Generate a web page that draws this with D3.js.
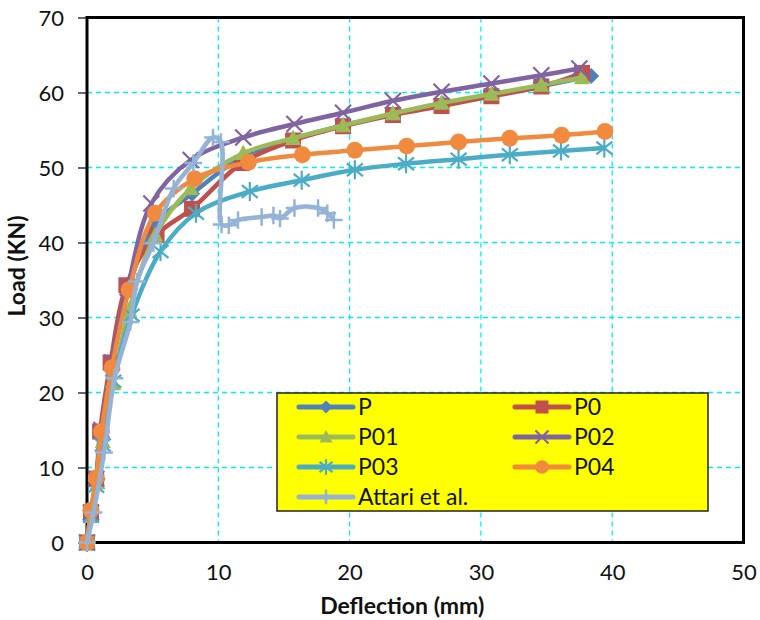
<!DOCTYPE html>
<html>
<head>
<meta charset="utf-8">
<script src="https://cdn.jsdelivr.net/npm/d3@7"></script>
<style>
  body { margin: 0; background: #fff; }
  text { font-family: Lato, "Liberation Sans", sans-serif; fill: #111; }
</style>
</head>
<body>
<svg id="chart"></svg>
<script>
// series values [deflection mm, load kN]
const seriesNames = ['P', 'P0', 'P01', 'P02', 'P03', 'P04', 'Attari et al.'];

const dataP = [[0,0],[0.3,4],[0.8,8.5],[1.1,14.5],[1.9,23.5],[3.1,33.5],[5.2,42.5],[8.0,46.5],[11.9,51.5],[15.7,53.8],[19.5,55.6],[23.3,57.1],[27.1,58.5],[30.9,59.7],[34.7,60.9],[38.4,62.2]];
const dataP0 = [[0,0],[0.3,4],[0.7,8.5],[1.0,14.8],[1.8,24],[3.0,34.3],[5.3,41],[8.0,44.5],[11.8,50.6],[15.7,53.6],[19.5,55.5],[23.3,57.0],[27.0,58.2],[30.8,59.5],[34.6,60.8],[37.7,62.6]];
const dataP01 = [[0,0],[0.3,3.5],[0.8,8],[1.2,13.5],[2.0,21.2],[3.2,31],[5.2,41],[7.9,47.2],[11.9,51.9],[15.7,53.9],[19.5,55.6],[23.3,57.2],[27.0,58.6],[30.8,59.8],[34.6,61.0],[37.7,62.0]];
const dataP02 = [[0,0],[0.3,4],[0.7,8.5],[1.1,15],[1.9,24],[3.1,34],[4.9,45.2],[7.9,51.0],[11.9,54.0],[15.8,55.8],[19.5,57.3],[23.3,58.9],[27.0,60.1],[30.8,61.2],[34.6,62.3],[37.5,63.2]];
const dataP03 = [[0,0],[0.3,3.5],[0.7,7.5],[1.2,13],[2.0,21.5],[3.4,30.3],[5.6,38.8],[8.3,43.9],[12.4,46.8],[16.35,48.3],[20.4,49.7],[24.3,50.5],[28.3,51.1],[32.2,51.7],[36.1,52.2],[39.4,52.6]];
const dataP04 = [[0,0],[0.3,4.3],[0.7,8.6],[1.1,14.8],[1.9,23.3],[3.2,33.7],[5.2,43.9],[8.2,48.5],[12.3,50.7],[16.4,51.7],[20.4,52.3],[24.35,52.85],[28.3,53.4],[32.2,53.9],[36.15,54.3],[39.45,54.8]];
const dataAttari = [[0,0],[0.5,4],[1.3,12],[2.1,21.9],[3.3,29.4],[3.8,34.8],[5.05,39.9],[6.6,47.2],[8.1,50.6],[9.6,54.0],[10.2,53.4],[10.25,42.4],[10.8,42.3],[11.5,43.0],[13.3,43.4],[14.2,43.6],[14.7,43.2],[15.8,44.6],[17.6,44.6],[18.3,43.9],[18.8,43.0]];

const xTicks = [0, 10, 20, 30, 40, 50];
const yTicks = [0, 10, 20, 30, 40, 50, 60, 70];

const colors = ['#4F81BD', '#C0504D', '#9BBB59', '#8064A2', '#4BACC6', '#F08A3E', '#95B3D7'];
const markers = ['diamond', 'square', 'triangle', 'cross', 'star', 'circle', 'plus'];
const allData = [dataP, dataP0, dataP01, dataP02, dataP03, dataP04, dataAttari];

const margin = {top: 17.5, left: 87, right: 16.5, bottom: 77.5};
const W = 760, H = 620;
const width = W - margin.left - margin.right;
const height = H - margin.top - margin.bottom;

const svg = d3.select('#chart').attr('width', W).attr('height', H);
const g = svg.append('g').attr('transform', `translate(${margin.left},${margin.top})`);

const x = d3.scaleLinear().domain([0, 50]).range([0, width]);
const y = d3.scaleLinear().domain([0, 70]).range([height, 0]);

// grid
g.append('g').selectAll('line').data(xTicks.filter(d => d > 0 && d < 50)).join('line')
  .attr('x1', d => x(d)).attr('x2', d => x(d)).attr('y1', 0).attr('y2', height)
  .attr('stroke', '#00F0F0').attr('stroke-width', 1.3).attr('stroke-dasharray', '5,4');
g.append('g').selectAll('line').data(yTicks.filter(d => d > 0 && d < 70)).join('line')
  .attr('y1', d => y(d)).attr('y2', d => y(d)).attr('x1', 0).attr('x2', width)
  .attr('stroke', '#00F0F0').attr('stroke-width', 1.3).attr('stroke-dasharray', '5,4');

// axes
const yAxis = d3.axisLeft(y).tickValues(yTicks).tickSize(9).tickPadding(14);
const gy = g.append('g').call(yAxis);
gy.select('.domain').remove();
gy.selectAll('line').attr('stroke', '#333').attr('stroke-width', 1.5);
gy.selectAll('text').style('font-size', '22px').attr('dy', '0.36em');

const xAxis = d3.axisBottom(x).tickValues(xTicks).tickSize(0).tickPadding(22);
const gx = g.append('g').attr('transform', `translate(0,${height})`).call(xAxis);
gx.select('.domain').remove();
gx.selectAll('text').style('font-size', '22px');

// frame
g.append('rect').attr('width', width).attr('height', height)
  .attr('fill', 'none').attr('stroke', '#000').attr('stroke-width', 3);

// axis titles
svg.append('text').attr('x', margin.left + width / 2 - 13).attr('y', 614)
  .attr('text-anchor', 'middle').style('font-size', '23px').style('font-weight', 'bold')
  .text('Deflection (mm)');
svg.append('text').attr('transform', `translate(25,${margin.top + height / 2 - 14}) rotate(-90)`)
  .attr('text-anchor', 'middle').style('font-size', '23px').style('font-weight', 'bold')
  .text('Load (KN)');

function drawMarker(sel, type, color, s) {
  if (type === 'diamond') {
    sel.append('path').attr('d', `M0,${-s}L${s},0L0,${s}L${-s},0Z`).attr('fill', color);
  } else if (type === 'square') {
    sel.append('rect').attr('x', -s).attr('y', -s).attr('width', 2 * s).attr('height', 2 * s).attr('fill', color);
  } else if (type === 'triangle') {
    sel.append('path').attr('d', `M0,${-s * 1.1}L${s},${s * 0.85}L${-s},${s * 0.85}Z`).attr('fill', color);
  } else if (type === 'circle') {
    sel.append('circle').attr('r', s * 1.05).attr('fill', color);
  } else if (type === 'cross') {
    sel.append('path').attr('d', `M${-s},${-s}L${s},${s}M${-s},${s}L${s},${-s}`)
      .attr('stroke', color).attr('stroke-width', 2.2).attr('fill', 'none');
  } else if (type === 'star') {
    sel.append('path').attr('d', `M${-s},${-s * 0.8}L${s},${s * 0.8}M${-s},${s * 0.8}L${s},${-s * 0.8}M0,${-s * 1.2}L0,${s * 1.2}`)
      .attr('stroke', color).attr('stroke-width', 2.2).attr('fill', 'none');
  } else if (type === 'plus') {
    sel.append('path').attr('d', `M${-s * 1.1},0L${s * 1.1},0M0,${-s * 1.1}L0,${s * 1.1}`)
      .attr('stroke', color).attr('stroke-width', 2.5).attr('fill', 'none');
  }
}

const line = d3.line().x(d => x(d[0])).y(d => y(d[1])).curve(d3.curveCatmullRom.alpha(0.5));

allData.forEach((data, i) => {
  const sg = g.append('g');
  sg.append('path').datum(data).attr('d', line)
    .attr('fill', 'none').attr('stroke', colors[i]).attr('stroke-width', 4.5)
    .attr('stroke-linejoin', 'round');
  sg.selectAll('g.m').data(data).join('g').attr('class', 'm')
    .attr('transform', d => `translate(${x(d[0])},${y(d[1])})`)
    .each(function () { drawMarker(d3.select(this), markers[i], colors[i], 8); });
});

// legend
const lg = svg.append('g').attr('transform', 'translate(277,393)');
lg.append('rect').attr('width', 431).attr('height', 118)
  .attr('fill', '#FFFF00').attr('stroke', '#222').attr('stroke-width', 1.5);
seriesNames.forEach((name, i) => {
  const col = i % 2, row = Math.floor(i / 2);
  const ex = 22 + col * 216, ey = 14 + row * 30;
  const it = lg.append('g').attr('transform', `translate(${ex},${ey})`);
  it.append('line').attr('x1', 0).attr('x2', 54).attr('stroke', colors[i])
    .attr('stroke-width', 5).attr('stroke-linecap', 'round');
  const mk = it.append('g').attr('transform', 'translate(27,0)');
  drawMarker(mk, markers[i], colors[i], 6.5);
  it.append('text').attr('x', 59).attr('dy', '0.36em').style('font-size', '23px').text(name);
});
</script>
</body>
</html>
